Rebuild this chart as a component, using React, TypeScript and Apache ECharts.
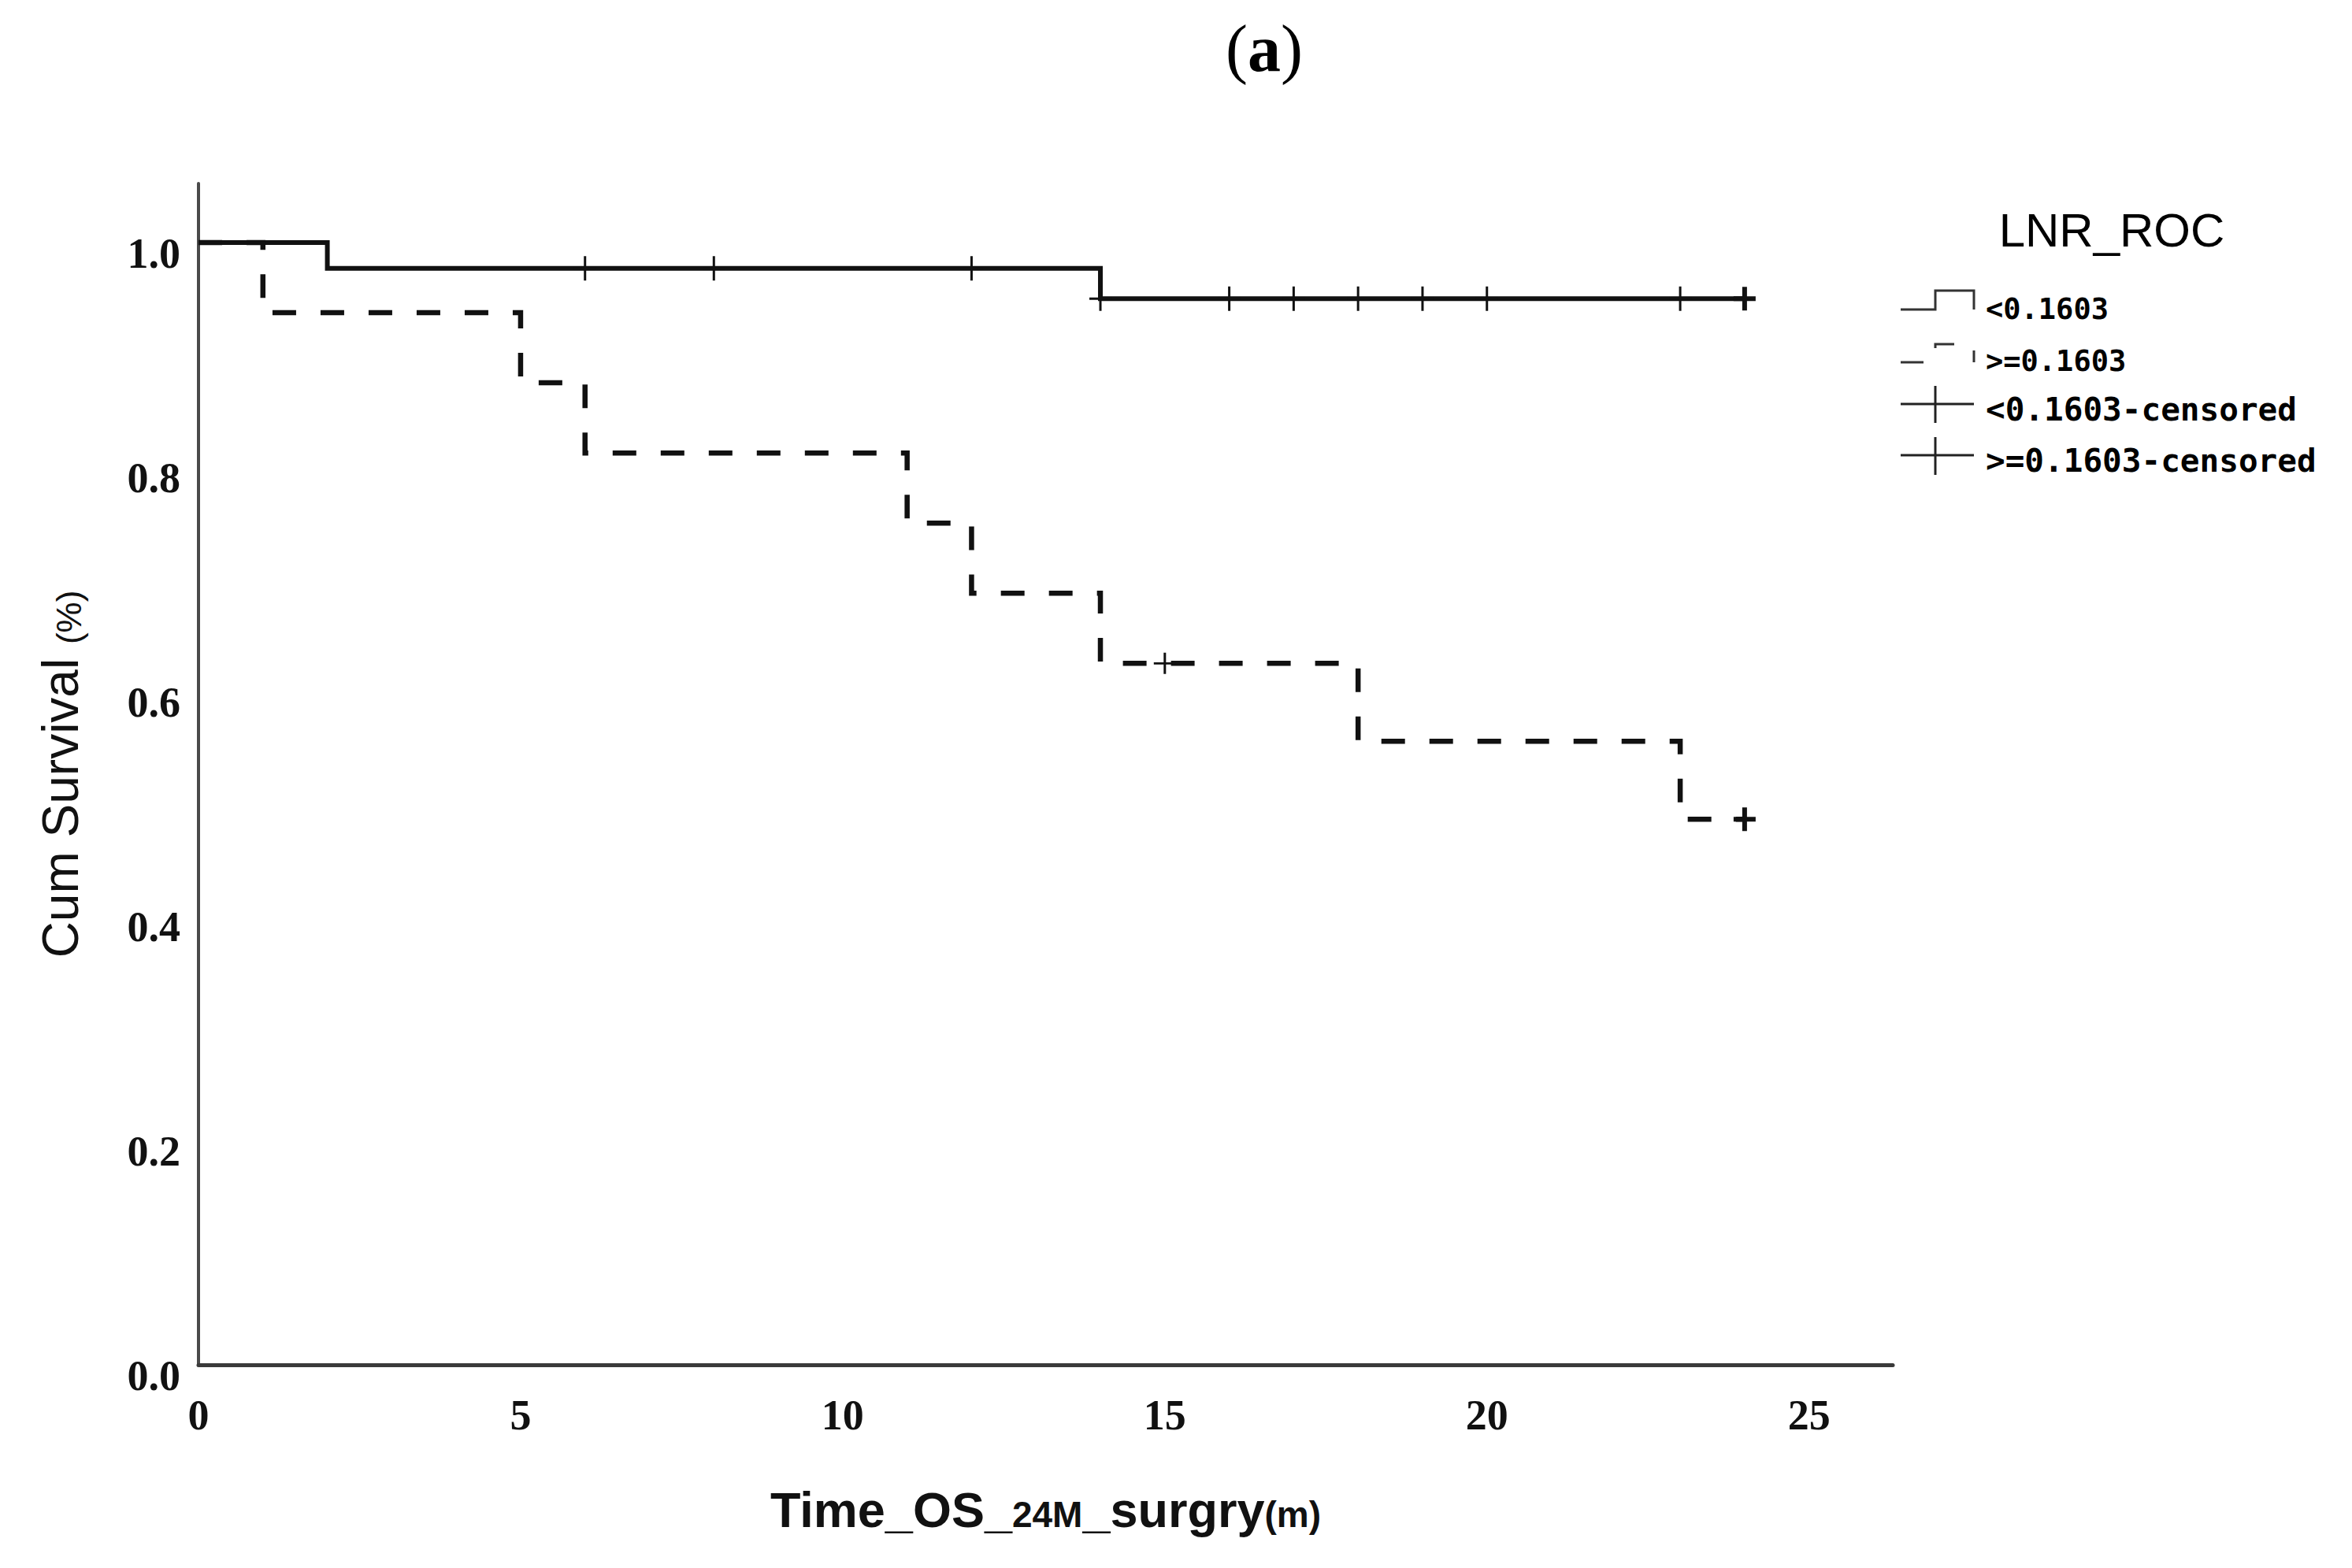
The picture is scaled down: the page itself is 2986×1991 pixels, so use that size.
import React, { useEffect, useRef } from "react";
import * as echarts from "echarts";

// ---- data ----
const lowTimes = [0, 2, 14, 24];
const lowSurvival = [1.0, 0.977, 0.95, 0.95];
const highTimes = [0, 1, 5, 6, 11, 12, 14, 18, 23, 24];
const highSurvival = [1.0, 0.9375, 0.875, 0.8125, 0.75, 0.6875, 0.625, 0.5556, 0.4861, 0.4861];
const lowCensorTimes = [6, 8, 12, 14, 16, 17, 18, 19, 20, 23, 24];
const lowCensorValues = [0.977, 0.977, 0.977, 0.95, 0.95, 0.95, 0.95, 0.95, 0.95, 0.95, 0.95];
const highCensorTimes = [15, 24];
const highCensorValues = [0.625, 0.4861];
const xTickValues = [0, 5, 10, 15, 20, 25];
const yTickValues = [0, 0.2, 0.4, 0.6, 0.8, 1.0];
const legendTitle = "LNR_ROC";
const legendLabels = ["<0.1603", ">=0.1603", "<0.1603-censored", ">=0.1603-censored"];

const W = 2986;
const H = 1991;

const THIN_PLUS = "path://M12.5,0H15.5V14H28V17H15.5V31H12.5V17H0V14H12.5Z";
const BOLD_PLUS = "path://M11,0H17V12H28V18H17V30H11V18H0V12H11Z";
const LAST_TIME = 24;

export default function App() {
  const ref = useRef<HTMLDivElement>(null);
  useEffect(() => {
    document.body.style.margin = "0";
    if (!ref.current) return;
    const chart = echarts.init(ref.current, null, { renderer: "svg" });
    const ink = "#111";
    const tickFont = {
      fontFamily: "Liberation Serif",
      fontWeight: "bold" as const,
      fontSize: 54,
      color: ink,
    };
    const legendFonts = [
      "bold 37px 'DejaVu Sans Mono'",
      "bold 37px 'DejaVu Sans Mono'",
      "bold 41px 'DejaVu Sans Mono'",
      "bold 41px 'DejaVu Sans Mono'",
    ];
    const lx0 = 2413, lxm = 2457, lx1 = 2506, ltx = 2521;
    const option: any = {
      animation: false,
      backgroundColor: "#fff",
      title: {
        text: "{p|(}{b|a}{p|)}",
        left: 1600,
        top: 14,
        textAlign: "center",
        textStyle: {
          fontWeight: "normal",
          rich: {
            p: { fontFamily: "Liberation Serif", fontSize: 84, fontWeight: "normal", color: "#000" },
            b: { fontFamily: "Liberation Serif", fontSize: 84, fontWeight: "bold", color: "#000" },
          },
        },
      },
      grid: { left: 252, top: 233, width: 2151, height: 1500 },
      xAxis: {
        type: "value",
        min: 0,
        max: 26.3,
        interval: 5,
        name: "{a|Time_OS_}{s|24M}{a|_surgry}{s|(m)}",
        nameLocation: "middle",
        nameGap: 152,
        nameTextStyle: {
          rich: {
            a: { fontFamily: "Liberation Sans", fontWeight: "bold", fontSize: 63, color: ink, verticalAlign: "bottom" },
            s: { fontFamily: "Liberation Sans", fontWeight: "bold", fontSize: 46, color: ink, verticalAlign: "bottom", padding: [0, 0, 2, 0] },
          },
        },
        axisLine: { show: true, onZero: false, lineStyle: { color: "#3a3a3a", width: 5 } },
        axisTick: { show: false },
        splitLine: { show: false },
        axisLabel: {
          ...tickFont,
          margin: 37,
          showMaxLabel: false,
          formatter: (v: number) => (xTickValues.includes(v) ? String(v) : ""),
        },
      },
      yAxis: {
        type: "value",
        min: 0,
        max: 1.0526,
        interval: 0.2,
        name: "{a|Cum Survival }{s|(%)}",
        nameLocation: "middle",
        nameGap: 143,
        nameTextStyle: {
          rich: {
            a: { fontFamily: "Liberation Sans", fontSize: 64, color: ink, verticalAlign: "bottom" },
            s: { fontFamily: "Liberation Sans", fontSize: 44, color: ink, verticalAlign: "bottom" },
          },
        },
        axisLine: { show: true, lineStyle: { color: "#4a4a4a", width: 4 } },
        axisTick: { show: false },
        splitLine: { show: false },
        axisLabel: {
          ...tickFont,
          margin: 23,
          verticalAlign: "top",
          lineHeight: 28,
          formatter: (v: number) =>
            yTickValues.some((t) => Math.abs(t - v) < 1e-6) ? v.toFixed(1) : "",
        },
      },
      series: [
        {
          name: legendLabels[0],
          type: "line",
          step: "end",
          showSymbol: false,
          data: lowTimes.map((t, i) => [t, lowSurvival[i]]),
          lineStyle: { color: ink, width: 6, cap: "butt", join: "miter" },
          z: 2,
        },
        {
          name: legendLabels[1],
          type: "line",
          step: "end",
          showSymbol: false,
          data: highTimes.map((t, i) => [t, highSurvival[i]]),
          lineStyle: { color: ink, width: 6.5, type: [30, 31], cap: "butt", join: "miter" },
          z: 3,
        },
        {
          name: legendLabels[2],
          type: "scatter",
          data: lowCensorTimes.map((t, i) => ({
            value: [t, lowCensorValues[i]],
            symbol: t === LAST_TIME ? BOLD_PLUS : THIN_PLUS,
            symbolSize: t === LAST_TIME ? [28, 30] : [28, 31],
          })),
          itemStyle: { color: ink, opacity: 1 },
          z: 4,
        },
        {
          name: legendLabels[3],
          type: "scatter",
          data: highCensorTimes.map((t, i) => ({
            value: [t, highCensorValues[i]],
            symbol: t === LAST_TIME ? BOLD_PLUS : THIN_PLUS,
            symbolSize: t === LAST_TIME ? [28, 30] : [28, 27],
          })),
          itemStyle: { color: ink, opacity: 1 },
          z: 4,
        },
      ],
      graphic: [
        {
          type: "text",
          x: 2681,
          y: 292,
          style: {
            text: legendTitle,
            font: "60px 'Liberation Sans'",
            fill: "#000",
            textAlign: "center",
            textVerticalAlign: "middle",
          },
        },
        {
          type: "polyline",
          shape: { points: [[lx0, 393], [lxm, 393], [lxm, 369], [lx1, 369], [lx1, 393]] },
          style: { stroke: "#333", lineWidth: 3, fill: null },
        },
        {
          type: "polyline",
          shape: { points: [[lx0, 460], [lxm, 460], [lxm, 437], [lx1, 437], [lx1, 460]] },
          style: { stroke: "#333", lineWidth: 3, fill: null, lineDash: [29, 33] },
        },
        { type: "line", shape: { x1: lx0, y1: 513, x2: lx1, y2: 513 }, style: { stroke: "#222", lineWidth: 3 } },
        { type: "line", shape: { x1: lxm, y1: 490, x2: lxm, y2: 537 }, style: { stroke: "#222", lineWidth: 3 } },
        { type: "line", shape: { x1: lx0, y1: 578, x2: lx1, y2: 578 }, style: { stroke: "#222", lineWidth: 3 } },
        { type: "line", shape: { x1: lxm, y1: 555, x2: lxm, y2: 603 }, style: { stroke: "#222", lineWidth: 3 } },
        ...legendLabels.map((label, i) => ({
          type: "text",
          x: ltx,
          y: [392, 458, 520, 585][i],
          style: {
            text: label,
            font: legendFonts[i],
            fill: "#000",
            textAlign: "left",
            textVerticalAlign: "middle",
          },
        })),
      ],
    };
    chart.setOption(option);
    return () => chart.dispose();
  }, []);
  return <div ref={ref} style={{ width: W, height: H }} />;
}
